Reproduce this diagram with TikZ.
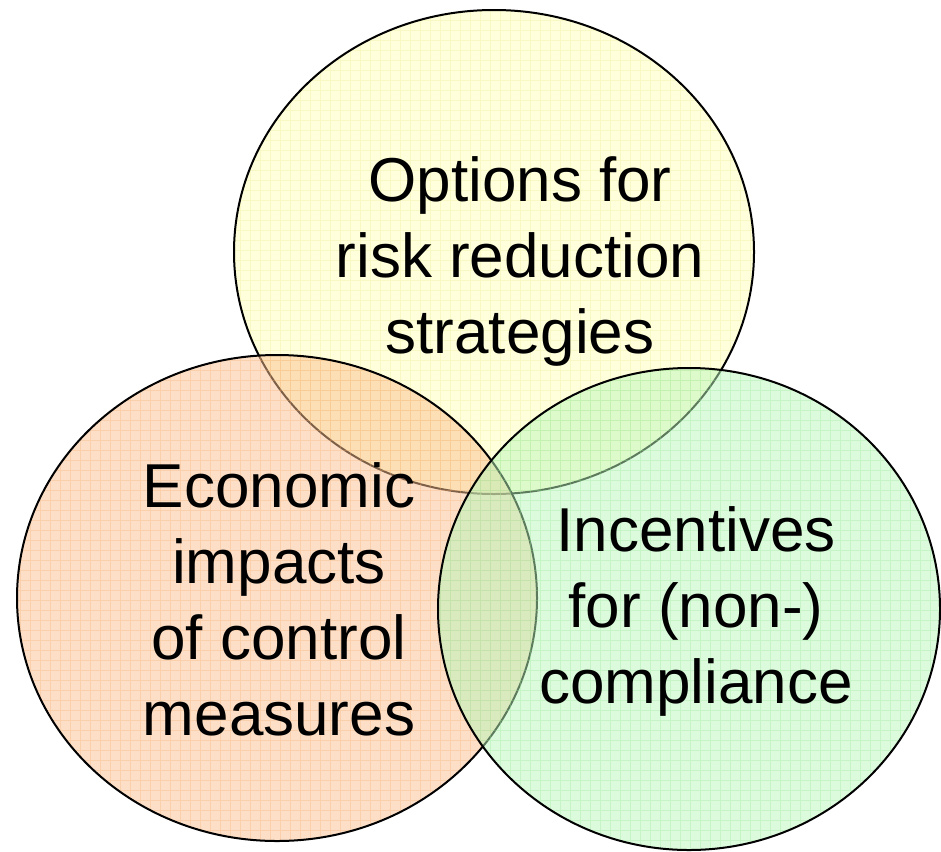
\documentclass[tikz,border=0pt]{standalone}
\usepackage{fontspec}
\setmainfont{Liberation Sans}
\usetikzlibrary{backgrounds,positioning}

\definecolor{riskfill}{RGB}{255,255,185}
\definecolor{riskgrid}{RGB}{235,235,140}
\definecolor{econfill}{RGB}{250,192,142}
\definecolor{econgrid}{RGB}{245,170,110}
\definecolor{incfill}{RGB}{185,245,185}
\definecolor{incgrid}{RGB}{150,230,150}

\tikzset{
	circle text/.style={align=center, inner sep=0pt, font=\fontsize{31}{38}\selectfont},
	venn fill/.style={fill opacity=0.5},
	venn grid/.style={line width=0.3pt, opacity=0.3, y=0.5pt},
	venn line/.style={draw=black, line width=1pt}
}

\begin{document}
\begin{tikzpicture} [x=0.5pt, y=-0.5pt]
	 	
	 	\useasboundingbox (0,0) rectangle (941,851);
	 	
	 	\coordinate (risk_c) at (494,252);
	 	
	 	\coordinate (econ_c) at (277,598);
	 	
	 	\coordinate (inc_c) at (689,609);
	 	
	 	
	 	\node (risk) [circle text] at (520,261) {Options for\\risk reduction\\strategies};
	 	
	 	\node (econ) [circle text] at (279,599) {Economic\\impacts\\of control\\measures};
	 	
	 	\node (inc) [circle text] at (696,611) {Incentives\\for (non-)\\compliance};
	 	
	 	
	 	
	 	\begin{pgfonlayer}{background}
	 	
	 	\begin{scope}
	 	\clip (risk_c) ellipse [x radius=260, y radius=242];
	 	\fill [riskfill, venn fill] (risk_c) ellipse [x radius=260, y radius=242];
	 	\draw [riskgrid, venn grid] (0,-860) grid [step=10] (950,0);
	 	\end{scope}
	 	\draw [venn line] (risk_c) ellipse [x radius=260, y radius=242];
	 	
	 	\begin{scope}
	 	\clip (econ_c) ellipse [x radius=260, y radius=243];
	 	\fill [econfill, venn fill] (econ_c) ellipse [x radius=260, y radius=243];
	 	\draw [econgrid, venn grid] (0,-860) grid [step=10] (950,0);
	 	\end{scope}
	 	\draw [venn line] (econ_c) ellipse [x radius=260, y radius=243];
	 	
	 	\begin{scope}
	 	\clip (inc_c) ellipse [x radius=251, y radius=241];
	 	\fill [incfill, venn fill] (inc_c) ellipse [x radius=251, y radius=241];
	 	\draw [incgrid, venn grid] (0,-860) grid [step=10] (950,0);
	 	\end{scope}
	 	\draw [venn line] (inc_c) ellipse [x radius=251, y radius=241];
	 	
	 	\end{pgfonlayer}
	 	
\end{tikzpicture}
\end{document}
